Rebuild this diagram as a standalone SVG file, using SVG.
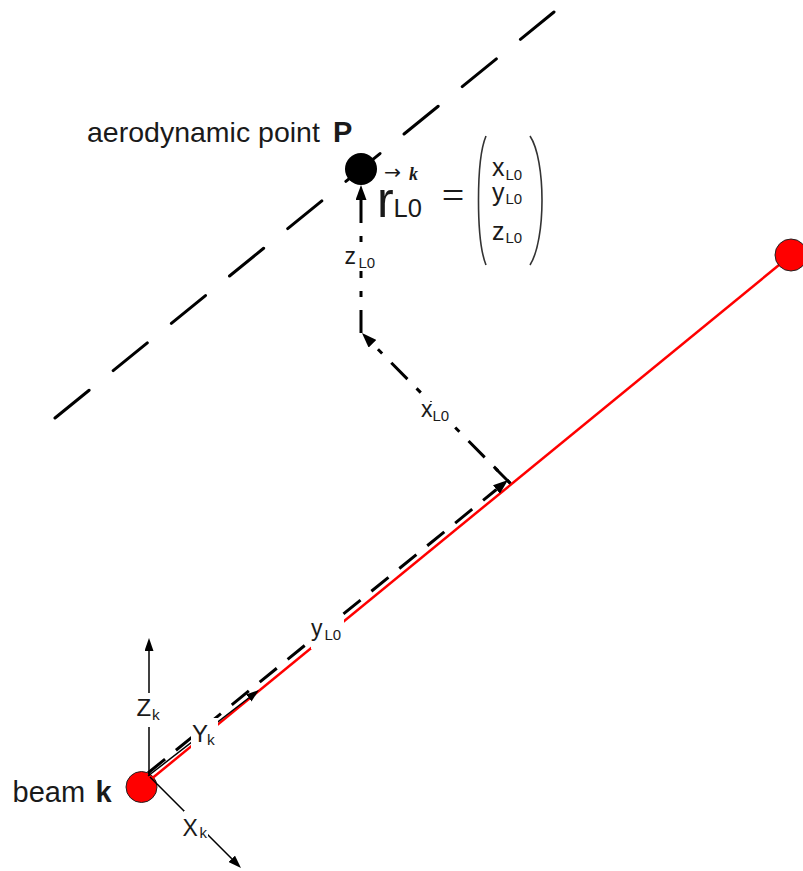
<svg xmlns="http://www.w3.org/2000/svg" width="803" height="871" viewBox="0 0 803 871">
<defs>
<style>
.t{font-family:"Liberation Sans",Arial,sans-serif;fill:#1a1a1a}
.b{font-weight:bold}
.thick{stroke:#000;stroke-width:3;fill:none}
.axis{stroke:#000;stroke-width:1.5;fill:none}
.bg{fill:#fff}
.node{fill:#ff0000;stroke:#222;stroke-width:1}
.brk{fill:none;stroke:#333;stroke-width:1.6}
</style>
<marker id="ah" markerUnits="userSpaceOnUse" markerWidth="16" markerHeight="11" refX="0" refY="5.5" orient="auto"><path d="M0,0 L15,5.5 L0,11 z" fill="#000"/></marker>
<marker id="as" markerUnits="userSpaceOnUse" markerWidth="14" markerHeight="9" refX="0" refY="4.5" orient="auto"><path d="M0,0 L13,4.5 L0,9 z" fill="#000"/></marker>
</defs>
<rect width="803" height="871" fill="#fff"/>

<g id="node-beam-k">
<circle class="node" cx="141.5" cy="787" r="15.5"/>
</g>

<g id="connectors">
<line x1="55" y1="418" x2="554" y2="12" class="thick" stroke-dasharray="44 31" stroke-linecap="round"/>
<line x1="141.5" y1="787" x2="779" y2="265" stroke="#ff0000" stroke-width="2.5"/>
<line x1="148" y1="773" x2="496.4" y2="489.5" class="thick" stroke-dasharray="22 14" marker-end="url(#ah)"/>
<line x1="495.5" y1="468.5" x2="510.5" y2="483.5" class="thick"/>
<line x1="510" y1="483" x2="372.5" y2="343.7" class="thick" stroke-dasharray="23 13 6 13" stroke-dashoffset="19" marker-end="url(#ah)"/>
<line x1="361" y1="333" x2="361" y2="200" class="thick" stroke-dasharray="23 13 6 13" marker-end="url(#ah)"/>
<line x1="148" y1="776" x2="248.7" y2="698" class="axis" marker-end="url(#as)"/>
<line x1="149" y1="776" x2="149" y2="651" class="axis" marker-end="url(#as)"/>
<line x1="150" y1="777" x2="231.8" y2="858.8" class="axis" marker-end="url(#as)"/>
</g>

<g id="node-beam-end">
<circle class="node" cx="791" cy="255" r="16"/>
</g>

<g id="node-point-P">
<circle cx="361" cy="169" r="16" fill="#000"/>
<text class="t" x="87" y="142" font-size="28.5">aerodynamic point</text>
<text class="t b" x="333" y="142" font-size="29">P</text>
</g>

<g id="label-beam-k">
<text class="t" x="12.5" y="802" font-size="29">beam</text>
<text class="t b" x="95.5" y="802" font-size="29">k</text>
</g>

<g id="equation">
<text x="384" y="179" font-family="'DejaVu Sans',sans-serif" font-size="20" textLength="17" lengthAdjust="spacingAndGlyphs" fill="#1a1a1a">→</text>
<text x="409" y="180" font-family="'Liberation Serif',serif" font-size="18" font-weight="bold" font-style="italic" fill="#1a1a1a">k</text>
<text class="t" x="377" y="217" font-size="50">r</text>
<text class="t" x="393.5" y="217" font-size="25.5">L0</text>
<text x="453" y="209" font-family="'Liberation Serif',serif" font-size="40" text-anchor="middle" fill="#1a1a1a">=</text>
<path class="brk" d="M486,136 C476,160 476,240 486,265"/>
<path class="brk" d="M530,136 C546,160 546,240 530,265"/>
<text class="t" x="492" y="176" font-size="25">x</text>
<text class="t" x="505.5" y="179.5" font-size="15">L0</text>
<text class="t" x="492" y="201" font-size="25">y</text>
<text class="t" x="505.5" y="203.5" font-size="15">L0</text>
<text class="t" x="492" y="239.5" font-size="25">z</text>
<text class="t" x="505.5" y="243" font-size="15">L0</text>
</g>

<g id="label-zL0">
<rect class="bg" x="343" y="247" width="34" height="24"/>
<text class="t" x="344.5" y="264" font-size="23">z</text>
<text class="t" x="358.5" y="268" font-size="15">L0</text>
</g>
<g id="label-xL0">
<rect class="bg" x="420" y="402" width="33" height="23"/>
<text class="t" x="421" y="417" font-size="23">x</text>
<text class="t" x="432.5" y="421" font-size="15">L0</text>
</g>
<g id="label-yL0">
<rect class="bg" x="311" y="619" width="33" height="30"/>
<text class="t" x="311" y="636" font-size="23">y</text>
<text class="t" x="324.5" y="640" font-size="15">L0</text>
</g>
<g id="label-Zk">
<rect class="bg" x="135" y="693" width="27" height="34"/>
<text class="t" x="136.5" y="716" font-size="24">Z</text>
<text class="t" x="152" y="719.5" font-size="15.5">k</text>
</g>
<g id="label-Yk">
<rect class="bg" x="191" y="718" width="27" height="30"/>
<text class="t" x="192" y="741.5" font-size="24">Y</text>
<text class="t" x="207" y="745" font-size="15.5">k</text>
</g>
<g id="label-Xk">
<rect class="bg" x="184" y="811" width="24" height="29"/>
<text class="t" x="182.5" y="835.5" font-size="23">X</text>
<text class="t" x="199.5" y="838" font-size="15">k</text>
</g>
</svg>
